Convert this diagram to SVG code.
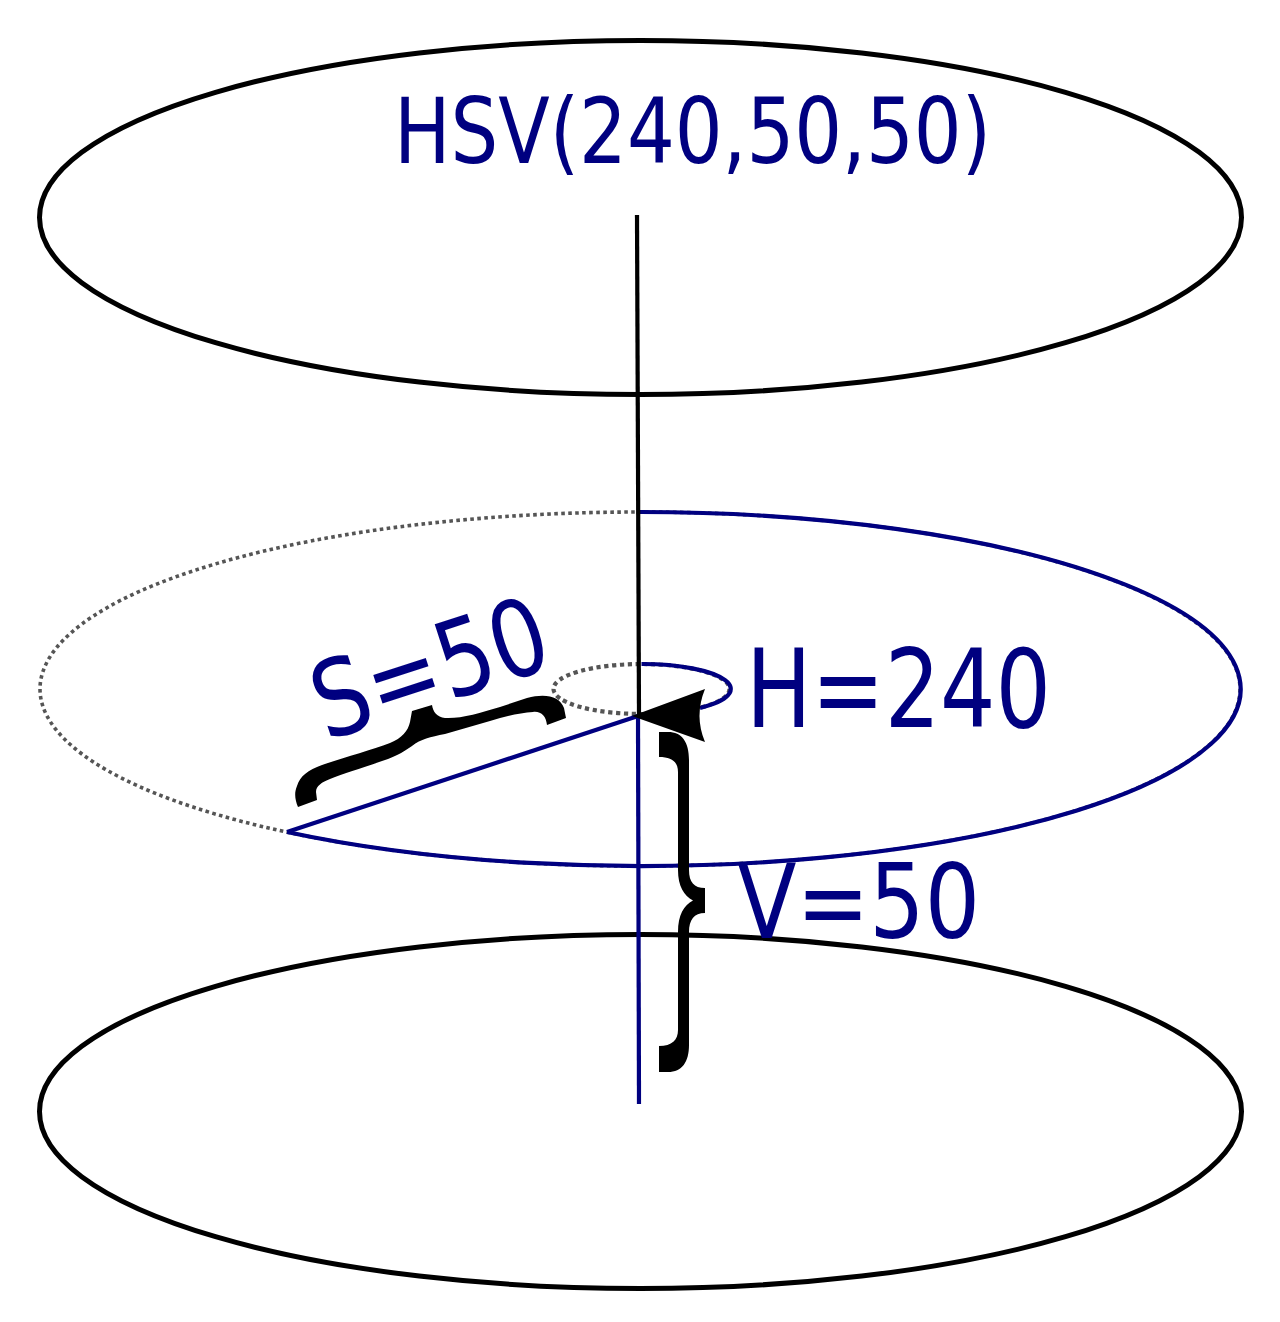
<svg xmlns="http://www.w3.org/2000/svg" width="1280" height="1322" viewBox="0 0 1280 1322">
<style>
.ell{fill:none;stroke:#000;stroke-width:5}
.dot{fill:none;stroke:#555;stroke-width:3.6;stroke-dasharray:3.6 3.4}
.blue{fill:none;stroke:#000080;stroke-width:4.2}
.lbl{font-family:"DejaVu Sans Condensed","DejaVu Sans",sans-serif;fill:#000080}
.brace{fill:#000;stroke:none}
</style>
<rect width="1280" height="1322" fill="#fff"/>
<g id="top-disc"><ellipse class="ell" cx="640.5" cy="217.5" rx="601" ry="177"/></g>
<g id="bottom-disc"><ellipse class="ell" cx="640.5" cy="1111.5" rx="601" ry="177"/></g>
<g id="middle-disc">
<ellipse class="dot" cx="640" cy="689" rx="600" ry="177"/>
<path class="blue" d="M640,512 A600,177 0 1,1 287,832"/>
</g>
<g id="hue-circle">
<ellipse class="dot" cx="641.5" cy="689" rx="88" ry="25" style="stroke-width:4.2;stroke-dasharray:4.2 3.6"/>
</g>
<g id="connectors">
<path d="M637,215 L639,716" fill="none" stroke="#000" stroke-width="4.2"/>
<path class="blue" d="M638,716 L639,1104"/>
<path class="blue" d="M287,832 L638,716"/>
<path class="blue" d="M641.5,664 A88,25 0 0,1 700,708"/>
<path d="M632,716 L705,689 Q694,716 705,742 Z" fill="#000"/>
</g>
<g id="s-brace">
<path class="brace" d="M298,807 C295,800 294,793 297,786 C300,776 308,770 322,765 C345,757 372,750 390,743 C402,738 408,731 410,722 L412,711 L432,705 C433,712 437,717 445,718 C460,719 480,713 500,707 L527,698 C545,693 560,696 564,708 L566,718 L547,725 C546,716 541,711 533,712 C520,713 505,716 490,721 L445,734 C430,737 421,739 412,746 C405,751 398,755 388,759 C365,767 345,773 330,779 C322,782 316,786 316,792 L317,800 Z"/>
</g>
<g id="v-brace">
<path class="brace" d="M659,732 L668,732 C682,732 689,742 689,760 L689,870 C689,882 694,888 705,888 L705,913 C694,913 689,920 689,932 L689,1045 C689,1062 682,1072 668,1072 L659,1072 L659,1046 C672,1046 678,1040 678,1030 L678,932 C678,915 684,905 693,900.5 C684,896 678,886 678,870 L678,772 C678,762 672,757 659,757 Z"/>
</g>
<g id="labels">
<text class="lbl" x="394" y="163" font-size="91" textLength="597" lengthAdjust="spacingAndGlyphs">HSV(240,50,50)</text>
<text class="lbl" x="746" y="727" font-size="108" textLength="305" lengthAdjust="spacingAndGlyphs">H=240</text>
<text class="lbl" x="737" y="938" font-size="104" textLength="243" lengthAdjust="spacingAndGlyphs">V=50</text>
<text class="lbl" transform="translate(326,741) rotate(-18)" font-size="106" textLength="242" lengthAdjust="spacingAndGlyphs">S=50</text>
</g>
</svg>
